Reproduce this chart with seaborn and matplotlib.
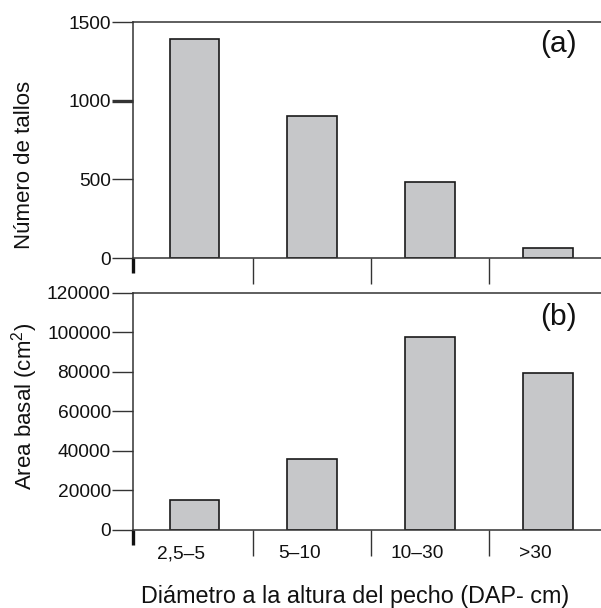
import matplotlib
matplotlib.use("Agg")
import matplotlib.pyplot as plt
import seaborn as sns
import pandas as pd
from matplotlib.ticker import FixedLocator

categories = ["2,5–5", "5–10", "10–30", ">30"]
stems = [1390, 905, 483, 64]
basal_area = [15000, 36000, 97500, 79500]
yticks_a = [0, 500, 1000, 1500]
yticks_b = [0, 20000, 40000, 60000, 80000, 100000, 120000]

sns.set_theme(style="ticks")
plt.rcParams["font.family"] = ["Liberation Sans", "DejaVu Sans"]
plt.rcParams["mathtext.fontset"] = "custom"
plt.rcParams["mathtext.rm"] = "Liberation Sans"
plt.rcParams["mathtext.it"] = "Liberation Sans:italic"

fig = plt.figure(figsize=(6.01, 6.08), dpi=100)
W, H = 601, 608
left = 133 / W
width = 474 / W
ax_a = fig.add_axes([left, 1 - 258 / H, width, (258 - 22) / H])
ax_b = fig.add_axes([left, 1 - 530 / H, width, (530 - 292.7) / H])

df_a = pd.DataFrame({"cat": categories, "val": stems})
df_b = pd.DataFrame({"cat": categories, "val": basal_area})

ink = "#111111"
for ax, df, yt, ylim in [
    (ax_a, df_a, yticks_a, 1500),
    (ax_b, df_b, yticks_b, 120000),
]:
    sns.barplot(data=df, x="cat", y="val", ax=ax, color="#c6c7c9",
                edgecolor="#1a1a1a", linewidth=1.2, width=0.42, saturation=1)
    ax.set_xlim(-0.52, 3.5)
    ax.set_ylim(0, ylim)
    ax.set_yticks(yt)
    ax.tick_params(axis="y", direction="out", length=15, width=1, labelsize=13.8,
                   pad=1, colors="#333333", labelcolor=ink)
    ax.xaxis.set_minor_locator(FixedLocator([0.5, 1.5, 2.5]))
    ax.tick_params(axis="x", which="minor", direction="out", length=19, width=1,
                   colors="#333333")
    ax.set_xticks([i - 0.11 for i in range(len(categories))])
    ax.tick_params(axis="x", which="major", length=0, labelsize=13.8, pad=11,
                   labelcolor=ink)
    # thick tick at left boundary
    ax.plot([-0.52, -0.52], [0, -15 / 236], transform=ax.get_xaxis_transform(),
            color=ink, lw=2.4, clip_on=False, solid_capstyle="butt")
    for s in ["left", "top", "bottom"]:
        ax.spines[s].set_color("#333333")
        ax.spines[s].set_linewidth(1.1)
    ax.spines["right"].set_visible(False)
    ax.set_ylabel("")
    ax.set_xlabel("")

ax_a.set_xticklabels([])
ax_b.set_xticklabels(categories)
# thicker 1000 tick
ax_a.yaxis.get_major_ticks()[2].tick1line.set_markeredgewidth(2.4)

fig.text(25 / W, 1 - 165 / H, "Número de tallos", rotation=90, fontsize=16,
         ha="center", va="center", color=ink)
fig.text(25 / W, 1 - 406 / H, "Area basal (cm$^2$)", rotation=90, fontsize=16,
         ha="center", va="center", color=ink)
fig.text(577 / W, 1 - 30 / H, "(a)", fontsize=21.5, ha="right", va="top", color=ink)
fig.text(577 / W, 1 - 303 / H, "(b)", fontsize=21.5, ha="right", va="top", color=ink)
fig.text(355 / W, 1 - 603 / H, "Diámetro a la altura del pecho (DAP- cm)",
         fontsize=16.8, ha="center", va="baseline", color=ink)

fig.savefig("out.png", dpi=100)
